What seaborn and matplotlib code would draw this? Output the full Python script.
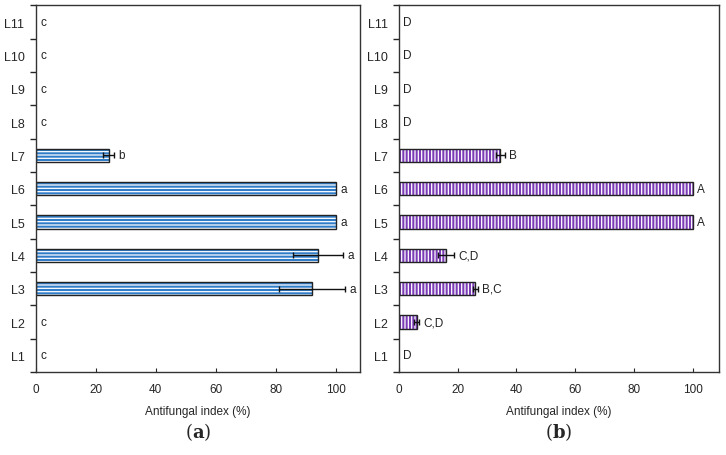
import pandas as pd
import matplotlib.pyplot as plt
import matplotlib.patches as mpatches
from matplotlib.ticker import FixedLocator
import seaborn as sns

# dados
linhagens = ['L1', 'L2', 'L3', 'L4', 'L5', 'L6', 'L7', 'L8', 'L9', 'L10', 'L11']

indice_a = [0, 0, 92, 94, 100, 100, 24.3, 0, 0, 0, 0]
erro_a = [0, 0, 11, 8.3, 0, 0, 1.8, 0, 0, 0, 0]
letras_a = ['c', 'c', 'a', 'a', 'a', 'a', 'b', 'c', 'c', 'c', 'c']

indice_b = [0, 6, 26, 16, 100, 100, 34.5, 0, 0, 0, 0]
erro_b = [0, 0.8, 0.8, 2.8, 0, 0, 1.5, 0, 0, 0, 0]
letras_b = ['D', 'C,D', 'B,C', 'C,D', 'A', 'A', 'B', 'D', 'D', 'D', 'D']

sns.set_style('ticks')
plt.rcParams['font.family'] = ['Liberation Sans', 'DejaVu Sans']
plt.rcParams['hatch.linewidth'] = 0.9


def painel(ax, valores, erros, letras, cor, hatch, xmax, rotulo):
    df = pd.DataFrame({'linha': linhagens, 'valor': valores})
    ordem = linhagens[::-1]
    sns.barplot(data=df, x='valor', y='linha', order=ordem, orient='h',
                color=cor, width=0.4, ax=ax, errorbar=None,
                hatch=hatch, edgecolor='white', linewidth=0, saturation=1)
    # contorno preto por cima da hachura branca
    for p in list(ax.patches):
        if p.get_width() > 0:
            ax.add_patch(mpatches.Rectangle(p.get_xy(), p.get_width(), p.get_height(),
                                            fill=False, edgecolor='#222222', linewidth=1.0))

    pos = {t.get_text(): y for t, y in zip(ax.get_yticklabels(), ax.get_yticks())}
    ys = [pos[l] for l in linhagens]
    for y, v, e, letra in zip(ys, valores, erros, letras):
        if e > 0:
            ax.errorbar(v, y, xerr=e, fmt='none', ecolor='#111111',
                        elinewidth=1, capsize=2.5, capthick=1)
        xt = v + e + 1.5 if v > 0 else 1.5
        ax.text(xt, y, letra, ha='left', va='center', fontsize=8.5, color='#222222')

    ax.set_xlim(0, xmax)
    ax.set_ylim(10.5, -0.5)
    ax.set_xticks([0, 20, 40, 60, 80, 100])
    ax.tick_params(axis='x', direction='in', length=3, labelsize=8.5, pad=8)
    ax.tick_params(axis='y', which='major', length=0, labelsize=9, pad=8)
    ax.yaxis.set_minor_locator(FixedLocator([i - 0.5 for i in range(12)]))
    ax.tick_params(axis='y', which='minor', length=4, direction='out', width=1)
    ax.set_xlabel('Antifungal index (%)', fontsize=8.5, labelpad=7)
    ax.set_ylabel('')
    for s in ax.spines.values():
        s.set_visible(True)
        s.set_color('#333333')
        s.set_linewidth(1)
    # rótulo do painel: (a) / (b) com a letra em negrito
    ax.text(0.5, -0.16, r'($\mathbf{' + rotulo + r'}$)', transform=ax.transAxes,
            ha='center', va='center', fontsize=13, family='DejaVu Serif',
            math_fontfamily='dejavuserif')


fig = plt.figure(figsize=(7.26, 4.56), dpi=100)
ax1 = fig.add_axes([0.049, 0.182, 0.447, 0.804])
ax2 = fig.add_axes([0.5496, 0.182, 0.4408, 0.804])

painel(ax1, indice_a, erro_a, letras_a, '#2f7cc9', '-----', 108, 'a')
painel(ax2, indice_b, erro_b, letras_b, '#7b3cb6', '|||||', 109, 'b')

fig.savefig('out.png', dpi=100)
